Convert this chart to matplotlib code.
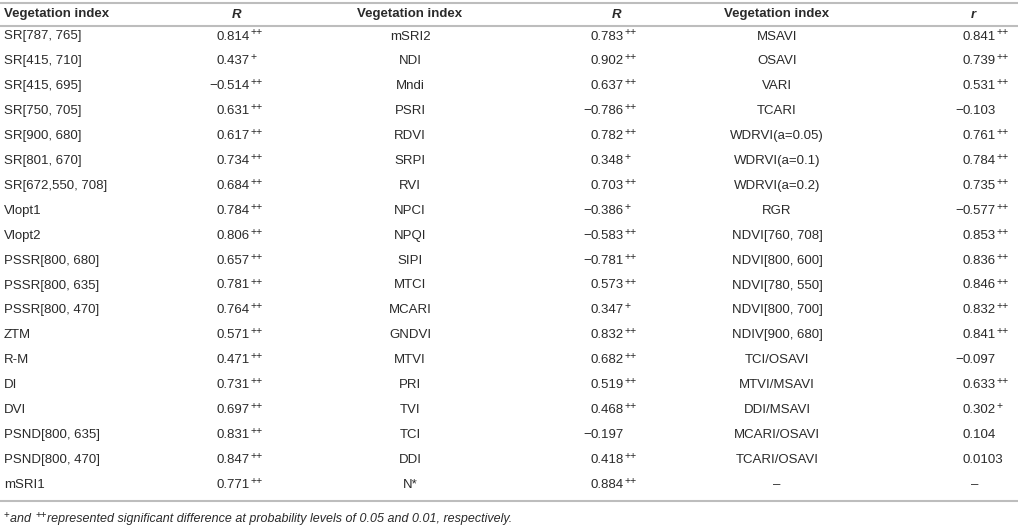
import matplotlib.pyplot as plt

# table content
names1 = ['SR[787, 765]', 'SR[415, 710]', 'SR[415, 695]', 'SR[750, 705]', 'SR[900, 680]',
          'SR[801, 670]', 'SR[672,550, 708]', 'Vlopt1', 'Vlopt2', 'PSSR[800, 680]',
          'PSSR[800, 635]', 'PSSR[800, 470]', 'ZTM', 'R-M', 'DI', 'DVI',
          'PSND[800, 635]', 'PSND[800, 470]', 'mSRI1']
vals1 = ['0.814', '0.437', '-0.514', '0.631', '0.617', '0.734', '0.684', '0.784', '0.806',
         '0.657', '0.781', '0.764', '0.571', '0.471', '0.731', '0.697', '0.831', '0.847', '0.771']
sig1 = ['++', '+', '++', '++', '++', '++', '++', '++', '++', '++', '++', '++', '++', '++',
        '++', '++', '++', '++', '++']

names2 = ['mSRI2', 'NDI', 'Mndi', 'PSRI', 'RDVI', 'SRPI', 'RVI', 'NPCI', 'NPQI', 'SIPI',
          'MTCI', 'MCARI', 'GNDVI', 'MTVI', 'PRI', 'TVI', 'TCI', 'DDI', 'N*']
vals2 = ['0.783', '0.902', '0.637', '-0.786', '0.782', '0.348', '0.703', '-0.386', '-0.583',
         '-0.781', '0.573', '0.347', '0.832', '0.682', '0.519', '0.468', '-0.197', '0.418', '0.884']
sig2 = ['++', '++', '++', '++', '++', '+', '++', '+', '++', '++', '++', '+', '++', '++',
        '++', '++', '', '++', '++']

names3 = ['MSAVI', 'OSAVI', 'VARI', 'TCARI', 'WDRVI(a=0.05)', 'WDRVI(a=0.1)', 'WDRVI(a=0.2)',
          'RGR', 'NDVI[760, 708]', 'NDVI[800, 600]', 'NDVI[780, 550]', 'NDVI[800, 700]',
          'NDIV[900, 680]', 'TCI/OSAVI', 'MTVI/MSAVI', 'DDI/MSAVI', 'MCARI/OSAVI',
          'TCARI/OSAVI', '\u2013']
vals3 = ['0.841', '0.739', '0.531', '-0.103', '0.761', '0.784', '0.735', '-0.577', '0.853',
         '0.836', '0.846', '0.832', '0.841', '-0.097', '0.633', '0.302', '0.104', '0.0103', '\u2013']
sig3 = ['++', '++', '++', '', '++', '++', '++', '++', '++', '++', '++', '++', '++', '',
        '++', '+', '', '', '']

headers = ['Vegetation index', 'R', 'Vegetation index', 'R', 'Vegetation index', 'r']

plt.rcParams['font.family'] = ['Liberation Sans', 'DejaVu Sans']
TXT = '#2a2a2a'
LINE = '#bdbdbd'
FS = 9.5

W, H = 1018, 532
fig = plt.figure(figsize=(W / 100, H / 100), dpi=100)
ax = fig.add_axes([0, 0, 1, 1])
ax.set_xlim(0, W)
ax.set_ylim(H, 0)
ax.axis('off')
renderer = fig.canvas.get_renderer()


def width(t):
    return t.get_window_extent(renderer).width


def put_value(x0, y, val, sig):
    if val == '\u2013':
        ax.text(x0 + 8, y, val, ha='left', va='center', fontsize=FS, color=TXT)
        return
    if val.startswith('-'):
        ax.text(x0, y, '\u2212', ha='right', va='center', fontsize=FS, color=TXT)
        val = val[1:]
    t = ax.text(x0, y, val, ha='left', va='center', fontsize=FS, color=TXT)
    if sig:
        ax.text(x0 + width(t), y - 4, sig, ha='left', va='center',
                fontsize=FS * 0.8, color=TXT)


# rules
ax.plot([0, W], [3, 3], color=LINE, lw=1.5)
ax.plot([0, W], [25.5, 25.5], color=LINE, lw=1.5)
ax.plot([0, W], [501, 501], color=LINE, lw=1.5)

# header
hy = 14.5
ax.text(4, hy, headers[0], ha='left', va='center', fontsize=FS, weight='bold', color=TXT)
ax.text(237, hy, headers[1], ha='center', va='center', fontsize=FS, weight='bold',
        style='italic', color=TXT)
ax.text(410, hy, headers[2], ha='center', va='center', fontsize=FS, weight='bold', color=TXT)
ax.text(617, hy, headers[3], ha='center', va='center', fontsize=FS, weight='bold',
        style='italic', color=TXT)
ax.text(777, hy, headers[4], ha='center', va='center', fontsize=FS, weight='bold', color=TXT)
ax.text(973, hy, headers[5], ha='center', va='center', fontsize=FS, weight='bold',
        style='italic', color=TXT)

row_h = 24.9
for i in range(len(names1)):
    y = 36.5 + i * row_h
    ax.text(4, y, names1[i], ha='left', va='center', fontsize=FS, color=TXT)
    put_value(217, y, vals1[i], sig1[i])
    ax.text(410, y, names2[i], ha='center', va='center', fontsize=FS, color=TXT)
    put_value(591, y, vals2[i], sig2[i])
    ax.text(777, y, names3[i], ha='center', va='center', fontsize=FS, color=TXT)
    put_value(963, y, vals3[i], sig3[i])

# footnote
fy = 519
x = 4
parts = [('+', True), ('and ', False), ('++', True),
         ('represented significant difference at probability levels of 0.05 and 0.01, respectively.', False)]
for s, sup in parts:
    if sup:
        t = ax.text(x, fy - 4, s, ha='left', va='center', fontsize=7, color=TXT)
    else:
        t = ax.text(x, fy, s, ha='left', va='center', fontsize=9, style='italic', color=TXT)
    x += width(t) + 0.5

fig.savefig('out.png', dpi=100)
